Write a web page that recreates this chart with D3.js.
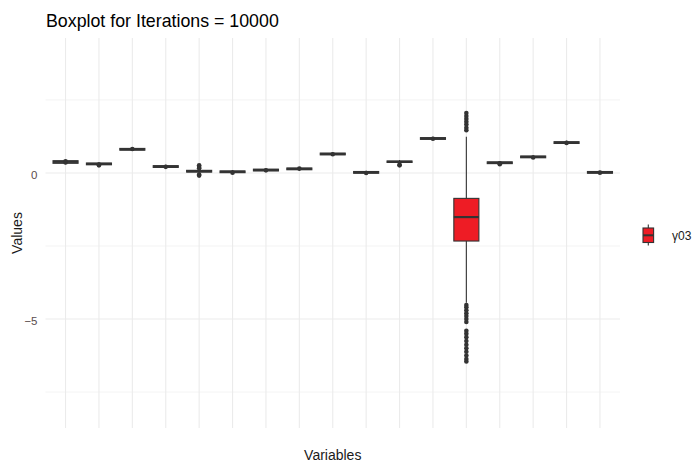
<!DOCTYPE html>
<html>
<head>
<meta charset="utf-8">
<script src="https://cdn.jsdelivr.net/npm/d3@7"></script>
<style>
  body { margin: 0; background: #fff; }
  svg text { font-family: "Liberation Sans", Arial, sans-serif; }
</style>
</head>
<body>
<div id="chart"></div>
<script>
// variables on the x axis (labels are not shown in the original)
const variables = ["v01", "v02", "v03", "v04", "v05", "v06", "v07", "v08", "v09",
  "v10", "v11", "v12", "γ03", "v14", "v15", "v16", "v17"];
// box statistics
const medians = [0.38, 0.31, 0.81, 0.22, 0.06, 0.04, 0.10, 0.14, 0.65, 0.02, 0.38, 1.18, -1.51, 0.35, 0.55, 1.04, 0.02];
const q1 = [0.33, 0.28, 0.78, 0.19, 0.03, 0.01, 0.07, 0.11, 0.62, -0.01, 0.36, 1.15, -2.33, 0.32, 0.52, 1.01, -0.01];
const q3 = [0.42, 0.34, 0.84, 0.25, 0.09, 0.07, 0.13, 0.17, 0.68, 0.05, 0.41, 1.21, -0.87, 0.38, 0.58, 1.07, 0.05];
const whiskerLow = [0.30, 0.25, 0.75, 0.16, -0.01, -0.02, 0.04, 0.08, 0.59, -0.04, 0.33, 1.12, -4.44, 0.29, 0.49, 0.98, -0.04];
const whiskerHigh = [0.45, 0.37, 0.87, 0.28, 0.13, 0.10, 0.16, 0.20, 0.71, 0.08, 0.44, 1.24, 1.24, 0.41, 0.61, 1.10, 0.08];
const outliers = [
  [0.36, 0.40], [0.29, 0.26], [0.82], [0.21], [0.26, 0.20, 0.16, -0.05, -0.09],
  [0.01], [0.09], [0.15], [0.64], [0.00], [0.26, 0.28], [1.17],
  [2.05, 1.95, 1.85, 1.75, 1.66, 1.55, 1.46,
   -4.52, -4.60, -4.70, -4.80, -4.90, -5.00, -5.10,
   -5.40, -5.50, -5.62, -5.75, -5.88, -6.00, -6.12, -6.25, -6.37, -6.45],
  [0.33, 0.30], [0.53], [1.03], [0.01]
];
const highlighted = "γ03";
const yTicks = [-5, 0];
const yMinor = [-7.5, -2.5, 2.5];

const W = 692, H = 463;
const panel = {left: 45.5, right: 620, top: 38, bottom: 428};

const svg = d3.select("#chart").append("svg")
  .attr("width", W).attr("height", H);

const x = d3.scalePoint().domain(variables)
  .range([panel.left, panel.right]).padding(0.6);
const y = d3.scaleLinear().domain([-8.73, 4.62])
  .range([panel.bottom, panel.top]);

const boxW = x.step() * 0.75;
const grid = svg.append("g");

// grid lines
grid.selectAll(".minor").data(yMinor).join("line")
  .attr("x1", panel.left).attr("x2", panel.right)
  .attr("y1", d => y(d)).attr("y2", d => y(d))
  .attr("stroke", "#f0f0f0").attr("stroke-width", 0.8);
grid.selectAll(".major").data(yTicks).join("line")
  .attr("x1", panel.left).attr("x2", panel.right)
  .attr("y1", d => y(d)).attr("y2", d => y(d))
  .attr("stroke", "#ebebeb").attr("stroke-width", 1.1);
grid.selectAll(".vgrid").data(variables).join("line")
  .attr("x1", d => x(d)).attr("x2", d => x(d))
  .attr("y1", panel.top).attr("y2", panel.bottom)
  .attr("stroke", "#ebebeb").attr("stroke-width", 1.1);

// y axis labels
const yAxis = svg.append("g")
  .attr("transform", `translate(${panel.left},0)`)
  .call(d3.axisLeft(y).tickValues(yTicks).tickSize(0).tickPadding(8));
yAxis.select(".domain").remove();
yAxis.selectAll("text").attr("fill", "#5a4d4d").style("font-size", "11.5px")
  .attr("dy", "0.5em")
  .style("font-family", "'Liberation Sans', Arial, sans-serif");

// boxes
const boxes = svg.append("g").selectAll("g").data(variables).join("g");
const stroke = "#333333";

boxes.append("line")
  .attr("x1", d => x(d)).attr("x2", d => x(d))
  .attr("y1", (d, i) => y(whiskerHigh[i])).attr("y2", (d, i) => y(q3[i]))
  .attr("stroke", stroke).attr("stroke-width", 1.1);
boxes.append("line")
  .attr("x1", d => x(d)).attr("x2", d => x(d))
  .attr("y1", (d, i) => y(q1[i])).attr("y2", (d, i) => y(whiskerLow[i]))
  .attr("stroke", stroke).attr("stroke-width", 1.1);
boxes.append("rect")
  .attr("x", d => x(d) - boxW / 2).attr("width", boxW)
  .attr("y", (d, i) => y(q3[i]))
  .attr("height", (d, i) => y(q1[i]) - y(q3[i]))
  .attr("fill", d => d === highlighted ? "#ee1c25" : "#ffffff")
  .attr("stroke", stroke).attr("stroke-width", 1.1);
boxes.append("line")
  .attr("x1", d => x(d) - boxW / 2).attr("x2", d => x(d) + boxW / 2)
  .attr("y1", (d, i) => y(medians[i])).attr("y2", (d, i) => y(medians[i]))
  .attr("stroke", stroke).attr("stroke-width", 2.2);
boxes.each(function(d, i) {
  d3.select(this).selectAll("circle").data(outliers[i]).join("circle")
    .attr("cx", x(d)).attr("cy", v => y(v)).attr("r", 2.3)
    .attr("fill", stroke);
});

// titles
svg.append("text").attr("x", 46).attr("y", 27)
  .style("font-size", "17.8px").attr("fill", "#000")
  .text("Boxplot for Iterations = 10000");
svg.append("text").attr("x", (panel.left + panel.right) / 2).attr("y", 460)
  .attr("text-anchor", "middle").style("font-size", "14px").attr("fill", "#1a1a1a")
  .text("Variables");
svg.append("text")
  .attr("transform", `translate(22,${(panel.top + panel.bottom) / 2}) rotate(-90)`)
  .attr("text-anchor", "middle").style("font-size", "14px").attr("fill", "#1a1a1a")
  .text("Values");

// legend
const lg = svg.append("g").attr("transform", "translate(643,224.5)");
lg.append("line").attr("x1", 5.3).attr("x2", 5.3).attr("y1", 0).attr("y2", 21)
  .attr("stroke", stroke).attr("stroke-width", 1.1);
lg.append("rect").attr("x", 0).attr("y", 3.5).attr("width", 10.6).attr("height", 14.5)
  .attr("fill", "#ee1c25").attr("stroke", stroke).attr("stroke-width", 1.1);
lg.append("line").attr("x1", 0).attr("x2", 10.6).attr("y1", 10.8).attr("y2", 10.8)
  .attr("stroke", stroke).attr("stroke-width", 2);
lg.append("text").attr("x", 29).attr("y", 15).style("font-size", "12px")
  .attr("fill", "#1a1a1a").text(highlighted);
</script>
</body>
</html>
